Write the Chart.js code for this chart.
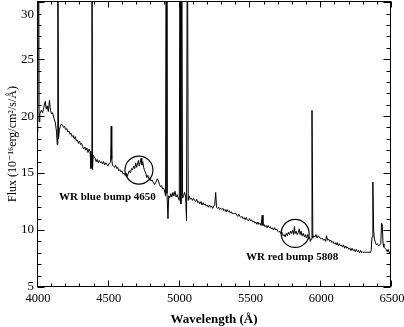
<!DOCTYPE html>
<html><head><meta charset="utf-8">
<script src="https://cdn.jsdelivr.net/npm/chart.js@4.4.0/dist/chart.umd.min.js"></script>
<style>html,body{margin:0;padding:0;background:#fff;}canvas{display:block;}</style>
</head><body>
<canvas id="c" width="404" height="327"></canvas>
<script>
// Spectrum (wavelength in Å, flux in 1e-16 erg/cm2/s/Å); peaks above the frame are clipped
const wavelength = [4000,4003,4007,4011,4015,4020,4030,4040,4050,4058,4065,4072,4080,4088,4095,4103,4110,4120,4130,4138,4143,4147,4152,4158,4165,4172,4180,4188,4195,4203,4210,4218,4225,4233,4240,4248,4255,4263,4270,4278,4285,4293,4300,4308,4315,4323,4330,4338,4345,4352,4360,4368,4375,4381,4385,4388,4392,4397,4403,4410,4418,4425,4433,4440,4448,4455,4463,4470,4478,4485,4493,4500,4508,4515,4520,4524,4528,4533,4540,4548,4555,4563,4570,4578,4585,4593,4600,4608,4615,4622,4630,4638,4645,4652,4660,4668,4675,4683,4690,4697,4703,4710,4717,4722,4728,4735,4740,4747,4753,4760,4768,4775,4783,4790,4798,4805,4812,4820,4830,4840,4850,4858,4865,4872,4880,4888,4895,4903,4908,4912,4918,4925,4930,4937,4945,4952,4960,4967,4975,4982,4990,4998,5005,5010,5016,5022,5028,5035,5042,5050,5056,5062,5068,5075,5082,5090,5098,5105,5113,5120,5128,5135,5143,5150,5158,5165,5173,5180,5188,5195,5203,5210,5218,5225,5233,5240,5248,5255,5262,5268,5275,5283,5290,5298,5305,5313,5320,5328,5335,5343,5350,5358,5365,5373,5380,5388,5395,5403,5410,5418,5425,5433,5440,5448,5455,5463,5470,5478,5485,5493,5500,5508,5515,5523,5530,5538,5545,5553,5560,5568,5575,5583,5590,5596,5603,5610,5618,5625,5633,5640,5648,5655,5663,5670,5678,5685,5693,5700,5708,5715,5723,5730,5738,5745,5753,5760,5768,5775,5783,5790,5798,5805,5812,5818,5823,5830,5838,5845,5852,5858,5865,5872,5880,5888,5895,5903,5910,5918,5925,5930,5936,5942,5948,5955,5963,5970,5978,5985,5993,6000,6008,6015,6023,6030,6038,6045,6052,6060,6068,6075,6083,6090,6098,6105,6113,6120,6128,6135,6143,6150,6158,6165,6173,6180,6188,6195,6203,6210,6218,6225,6233,6240,6248,6255,6263,6270,6278,6285,6293,6300,6308,6315,6323,6330,6338,6345,6353,6360,6366,6372,6377,6383,6390,6397,6404,6412,6420,6428,6433,6438,6444,6450,6458,6465,6473,6480,6488,6495,6500];
const flux = [19.6,18.6,20.0,40,19.5,20.2,20.5,20.3,20.9,21.3,20.6,20.9,20.4,21.4,20.5,20.2,20.3,19.8,19.4,18.6,17.5,40,18.0,18.8,19.1,19.3,19.2,19.0,19.1,18.8,18.9,18.6,18.7,18.4,18.5,18.2,18.3,18.0,18.2,17.8,17.9,17.6,17.8,17.5,17.6,17.3,17.1,17.3,17.0,17.2,16.8,17.1,16.9,15.4,16.6,40,15.3,16.6,16.4,16.3,16.0,16.2,15.9,16.1,15.9,16.0,15.8,16.0,15.7,15.9,15.8,15.6,15.8,15.9,16.0,19.1,16.2,15.7,15.6,15.5,15.7,15.4,15.5,15.2,15.3,15.1,15.2,14.9,15.0,14.8,15.0,14.7,15.0,15.2,15.0,15.4,15.3,15.6,15.4,15.9,15.5,15.8,16.1,15.6,15.9,16.3,15.7,16.0,15.5,15.2,15.0,14.6,14.8,14.5,14.6,14.3,14.4,14.2,14.0,14.2,14.5,14.3,14.0,13.8,13.9,13.6,13.7,13.3,13.0,40,13.2,11.0,13.0,12.8,13.2,12.9,13.3,13.0,13.4,12.9,13.1,12.8,12.6,40,12.3,40,12.8,13.0,13.3,12.9,10.8,40,12.6,13.0,12.7,12.8,12.6,12.8,12.6,12.5,12.7,12.4,12.5,12.3,12.5,12.2,12.4,12.2,12.3,12.1,12.2,12.0,12.2,12.0,12.1,11.9,12.1,12.2,13.3,12.0,11.9,12.0,11.8,11.9,11.8,11.9,11.7,11.8,11.6,11.8,11.6,11.7,11.5,11.6,11.4,11.5,11.4,11.5,11.3,11.2,11.4,11.2,11.1,11.2,11.0,11.1,10.9,11.1,10.9,10.8,11.0,10.8,10.9,10.7,10.8,10.6,10.7,10.5,10.7,10.5,10.6,10.4,11.3,10.4,10.5,10.3,10.4,10.2,10.4,10.2,10.3,10.1,10.2,10.0,10.2,10.0,10.1,9.9,9.8,9.9,9.7,9.8,9.5,9.6,9.4,9.7,9.5,9.8,9.6,9.9,9.7,10.0,9.6,10.3,9.7,9.9,9.6,9.8,10.1,9.6,9.9,9.5,9.7,9.4,9.6,9.3,9.6,9.2,9.4,9.0,9.2,20.5,9.3,9.5,9.4,9.6,9.3,9.5,9.4,9.3,9.2,9.3,9.1,9.2,9.0,9.5,9.1,9.2,9.0,9.1,8.9,9.0,8.8,8.9,8.7,8.9,8.6,8.8,8.6,8.7,8.5,8.7,8.4,8.6,8.4,8.5,8.3,8.4,8.2,8.4,8.2,8.3,8.1,8.3,8.1,8.2,8.0,8.2,8.0,8.1,8.0,8.1,8.0,8.1,8.0,8.1,8.0,8.2,9.4,14.2,10.0,9.2,8.9,8.7,8.8,8.6,8.7,8.8,10.6,10.5,8.8,8.5,8.4,8.3,8.1,8.3,8.0,8.1,8.0];

const xTicks = [4000,4500,5000,5500,6000,6500];
const yTicks = [5,10,15,20,25,30];

const bumpNames = ['WR blue bump 4650','WR red bump 5808'];
const bumpWavelength = [4720, 5823];
const bumpFlux = [15.26, 9.7];
const labelWavelength = [4497, 5802];
const labelFlux = [12.9, 7.6];

const SERIF = '"Liberation Serif", "DejaVu Serif", serif';

const framePlugin = {
  id: 'frame',
  beforeDraw(chart) {
    const c = chart.ctx; c.save(); c.fillStyle = '#fff'; c.fillRect(0, 0, chart.width, chart.height); c.restore();
  },
  afterDraw(chart) {
    const {ctx, chartArea: a, scales: {x, y}} = chart;
    ctx.save();
    ctx.strokeStyle = '#000'; ctx.lineWidth = 1;
    const L = Math.round(a.left) + 0.5, R = Math.round(a.right) - 0.5, T = Math.round(a.top) + 0.5, B = Math.round(a.bottom) - 0.5;
    ctx.strokeRect(L, T, R - L, B - T);
    ctx.beginPath();
    for (let v = xTicks[0]; v <= xTicks[xTicks.length - 1]; v += 100) {
      const px = Math.round(x.getPixelForValue(v)) + 0.5;
      const len = xTicks.includes(v) ? 6 : 3;
      ctx.moveTo(px, B); ctx.lineTo(px, B - len);
      ctx.moveTo(px, T); ctx.lineTo(px, T + len);
    }
    for (let v = yTicks[0]; v <= yTicks[yTicks.length - 1]; v += 1) {
      const py = Math.round(y.getPixelForValue(v)) + 0.5;
      const len = yTicks.includes(v) ? 7 : 4;
      ctx.moveTo(L, py); ctx.lineTo(L + len, py);
      ctx.moveTo(R, py); ctx.lineTo(R - len, py);
    }
    ctx.stroke();
    // top y label (placed just below the top tick, as in the original)
    ctx.fillStyle = '#000';
    ctx.font = '13px ' + SERIF;
    ctx.textAlign = 'right'; ctx.textBaseline = 'middle';
    ctx.fillText(String(yTicks[yTicks.length - 1]), a.left - 3, y.getPixelForValue(yTicks[yTicks.length - 1]) + 12);
    // annotations
    ctx.font = 'bold 11px ' + SERIF;
    ctx.textAlign = 'center';
    bumpNames.forEach((t, i) => {
      ctx.fillText(t, x.getPixelForValue(labelWavelength[i]), y.getPixelForValue(labelFlux[i]));
    });
    ctx.restore();
  }
};

new Chart(document.getElementById('c'), {
  type: 'scatter',
  data: {
    datasets: [
      {
        data: wavelength.map((w, i) => ({x: w, y: flux[i]})),
        showLine: true, borderColor: '#000', borderWidth: 1, pointRadius: 0, tension: 0, fill: false
      },
      {
        data: bumpWavelength.map((w, i) => ({x: w, y: bumpFlux[i]})),
        showLine: false, pointRadius: 14, pointStyle: 'circle', borderColor: '#000', borderWidth: 1.2,
        backgroundColor: 'rgba(0,0,0,0)'
      }
    ]
  },
  options: {
    responsive: false, animation: false, devicePixelRatio: 1,
    layout: {autoPadding: false, padding: {left: 0, right: 13, top: 1, bottom: 0}},
    plugins: {legend: {display: false}, tooltip: {enabled: false}},
    scales: {
      x: {
        type: 'linear', min: 4000, max: 6500,
        afterBuildTicks: s => { s.ticks = xTicks.map(v => ({value: v})); },
        ticks: {font: {family: SERIF, size: 12.5}, color: '#000', padding: 4, maxRotation: 0, autoSkip: false, labelOffset: 1, callback: v => String(v)},
        grid: {display: false, drawTicks: false},
        border: {display: false},
        title: {display: true, text: 'Wavelength (Å)', color: '#000', font: {family: SERIF, size: 13, weight: 'bold'}, padding: {top: 0, bottom: 0}},
        afterFit: s => { s.height = 40; s.paddingLeft = 0; s.paddingRight = 0; }
      },
      y: {
        type: 'linear', min: 5, max: 30.1,
        afterBuildTicks: s => { s.ticks = yTicks.map(v => ({value: v})); },
        ticks: {font: {family: SERIF, size: 13}, color: '#000', padding: 3, callback: v => v === 30 ? '' : String(v)},
        grid: {display: false, drawTicks: false},
        border: {display: false},
        title: {display: true, text: 'Flux (10⁻¹⁶erg/cm²/s/Å)', color: '#000', font: {family: SERIF, size: 12}, padding: {top: 6, bottom: 0}},
        afterFit: s => { s.width = 37; s.paddingTop = 0; s.paddingBottom = 0; }
      }
    }
  },
  plugins: [framePlugin]
});
</script>
</body></html>
